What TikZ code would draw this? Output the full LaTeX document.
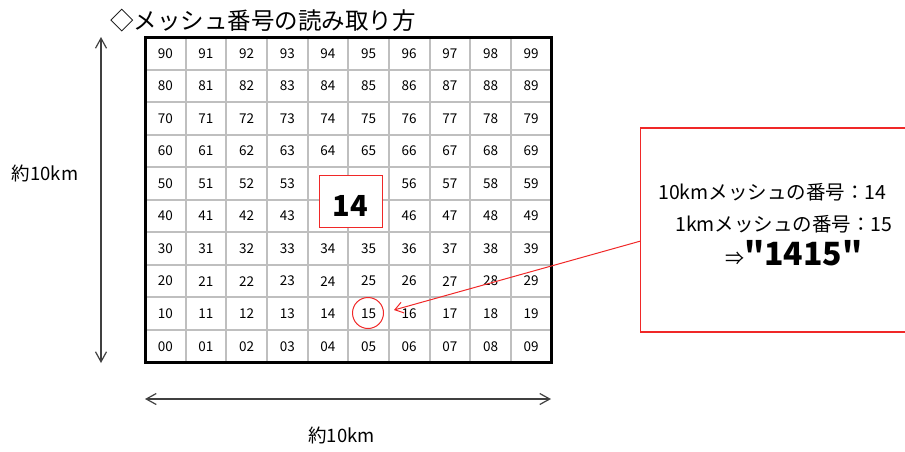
\documentclass[tikz,border=0pt]{standalone}
\usepackage{fontspec}
\setmainfont{Noto Sans CJK JP}[Ligatures=TeXOff]
\usetikzlibrary{arrows.meta}
\definecolor{gridgray}{HTML}{BFBFBF}
\definecolor{dimgray}{HTML}{404040}
\definecolor{mred}{HTML}{F02828}
\begin{document}
\begin{tikzpicture}[x=1pt,y=-1pt,
  cellnum/.style={inner sep=0pt,font=\fontsize{13.5}{13.5}\selectfont},
  jtext/.style={inner sep=0pt,font=\fontsize{18.5}{18.5}\selectfont},
  boxtext/.style={inner sep=0pt,font=\fontsize{19.5}{19.5}\selectfont},
  gridline/.style={draw=gridgray,line width=2pt},
  dimarrow/.style={draw=dimgray,line width=1.2pt,{Straight Barb[length=10pt,width=11pt]}-{Straight Barb[length=10pt,width=11pt]}},
  redarrow/.style={draw=mred,line width=1pt,-{Straight Barb[length=8pt,width=11pt]}}]
\useasboundingbox (0,0) rectangle (905,451);
% title
\node[anchor=west,inner sep=0pt,font=\fontsize{23.5}{23.5}\selectfont] (title) at (110,21) {◇メッシュ番号の読み取り方};
% grid lines
\foreach \i in {1,...,9}{
  \draw[gridline] ({145+\i*40.65},37) -- ({145+\i*40.65},362.5);
  \draw[gridline] (145,{37+\i*32.55}) -- (551.5,{37+\i*32.55});
}
\draw[black,line width=3pt] (145,37) rectangle (551.5,362.5);
% numbers
\foreach \r in {0,...,9}{
  \foreach \c in {0,...,9}{
    \pgfmathtruncatemacro\rowd{9-\r}
    \pgfmathtruncatemacro\hideit{((\r==4)||(\r==5))&&((\c==4)||(\c==5)) ? 1 : 0}
    \ifnum\hideit=0
      \node[cellnum] (c\rowd\c) at ({145+(\c+0.5)*40.65},{37+(\r+0.5)*32.55}) {\rowd\c};
    \fi
  }
}
% 10km mesh box
\node[draw=mred,fill=white,line width=1pt,minimum width=63pt,minimum height=52pt,inner sep=0pt,
      text height=31pt,text depth=0pt,font=\bfseries\fontsize{29}{29}\selectfont] (box14) at (350.5,201) {14};
% circle around 15
\node[draw=mred,circle,minimum size=31pt,line width=1pt,inner sep=0pt] (circ15) at (368,313) {};
% info box
\node[draw=mred,line width=1.2pt,minimum width=274pt,minimum height=204pt,inner sep=0pt] (infobox) at (777.7,230) {};
\node[boxtext,anchor=west] (l1) at (658,192) {10kmメッシュの番号：14};
\node[boxtext,anchor=west] (l2) at (675,224) {1kmメッシュの番号：15};
\node[inner sep=0pt,anchor=west] (l3) at (725,253) {{\fontsize{19}{19}\selectfont ⇒}{\bfseries\fontsize{32}{32}\selectfont "1415"}};
% arrow from info box to the circle
\coordinate (arrstart) at (640.7,241);
\coordinate (tip) at (394,310);
\draw[redarrow] (arrstart) -- (tip);
% dimension arrows
\coordinate (vtop) at (101,37);
\coordinate (vbot) at (101,363);
\draw[dimarrow] (vtop) -- (vbot);
\coordinate (hleft) at (145,399);
\coordinate (hright) at (551,399);
\draw[dimarrow] (hleft) -- (hright);
\node[jtext] (vlab) at (45,173) {約10km};
\node[jtext] (hlab) at (341.5,435) {約10km};
\end{tikzpicture}
\end{document}
